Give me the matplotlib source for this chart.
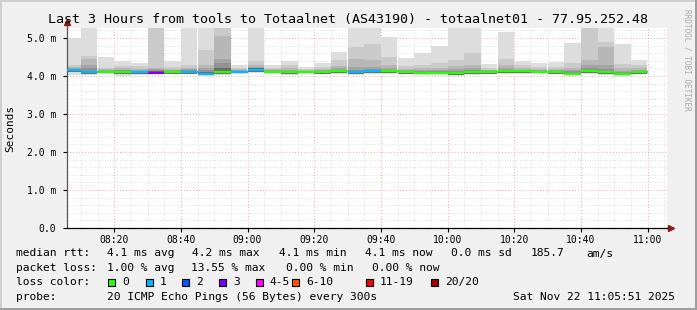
import matplotlib
matplotlib.use("Agg")
import matplotlib.pyplot as plt
import matplotlib.dates as mdates
from matplotlib.patches import Rectangle
from matplotlib.ticker import MultipleLocator, FixedLocator
import pandas as pd
from datetime import datetime

# SmokePing data: 5-minute steps, sorted ping times (ms) per step
bar_start = pd.date_range("2025-11-22 08:05", periods=35, freq="5min")
ping_max = [4.99, 5.60, 4.51, 4.40, 4.35, 5.60, 4.40, 5.60, 5.60, 5.60,
            4.29, 5.60, 4.29, 4.39, 4.23, 4.35, 4.64, 5.60, 5.60, 5.02,
            4.47, 4.60, 4.80, 5.60, 5.60, 4.31, 5.15, 4.40, 4.35, 4.38,
            4.88, 5.60, 5.60, 4.84, 4.42]
ping_19 = [4.28, 4.52, 4.22, 4.27, 4.26, 5.50, 4.24, 4.30, 4.68, 5.50,
           4.22, 4.40, 4.22, 4.30, 4.18, 4.24, 4.42, 4.75, 4.85, 4.51,
           4.27, 4.29, 4.33, 4.42, 4.60, 4.22, 4.46, 4.30, 4.24, 4.24,
           4.35, 5.50, 4.90, 4.32, 4.29]
ping_18 = [4.23, 4.44, 4.18, 4.20, 4.19, 4.22, 4.19, 4.22, 4.30, 5.04,
           4.18, 4.28, 4.18, 4.20, 4.15, 4.18, 4.26, 4.46, 4.42, 4.30,
           4.19, 4.20, 4.22, 4.26, 4.30, 4.17, 4.28, 4.22, 4.18, 4.18,
           4.22, 4.42, 4.75, 4.20, 4.21]
ping_17 = [4.20, 4.28, 4.16, 4.17, 4.16, 4.18, 4.16, 4.18, 4.22, 4.46,
           4.16, 4.23, 4.15, 4.16, 4.14, 4.15, 4.20, 4.24, 4.24, 4.20,
           4.16, 4.15, 4.16, 4.18, 4.22, 4.15, 4.20, 4.17, 4.15, 4.15,
           4.16, 4.28, 4.30, 4.14, 4.16]
ping_16 = [4.19, 4.20, 4.14, 4.15, 4.14, 4.15, 4.14, 4.15, 4.17, 4.33,
           4.14, 4.21, 4.13, 4.14, 4.13, 4.13, 4.17, 4.17, 4.18, 4.17,
           4.14, 4.12, 4.13, 4.13, 4.16, 4.13, 4.17, 4.15, 4.13, 4.13,
           4.12, 4.20, 4.18, 4.10, 4.14]
ping_15 = [4.18, 4.14, 4.13, 4.13, 4.13, 4.12, 4.13, 4.13, 4.10, 4.20,
           4.13, 4.20, 4.12, 4.13, 4.12, 4.12, 4.16, 4.13, 4.16, 4.15,
           4.12, 4.10, 4.10, 4.09, 4.13, 4.12, 4.15, 4.14, 4.12, 4.12,
           4.09, 4.15, 4.13, 4.08, 4.12]
median_rtt = [4.16, 4.10, 4.10, 4.10, 4.10, 4.08, 4.10, 4.10, 4.06, 4.10,
              4.10, 4.17, 4.10, 4.10, 4.10, 4.10, 4.14, 4.10, 4.14, 4.13,
              4.10, 4.07, 4.08, 4.07, 4.10, 4.10, 4.13, 4.12, 4.10, 4.10,
              4.06, 4.12, 4.10, 4.06, 4.10]
ping_2 = [4.10, 4.06, 4.07, 4.04, 4.06, 4.06, 4.06, 4.06, 4.03, 4.06,
          4.07, 4.10, 4.07, 4.05, 4.07, 4.06, 4.09, 4.06, 4.08, 4.08,
          4.06, 4.04, 4.04, 4.03, 4.06, 4.06, 4.08, 4.08, 4.07, 4.06,
          4.04, 4.07, 4.06, 4.02, 4.06]
ping_min = [4.03, 4.03, 4.05, 4.00, 4.03, 4.05, 4.04, 4.04, 4.00, 4.03,
            4.05, 4.07, 4.05, 4.02, 4.05, 4.04, 4.06, 4.03, 4.05, 4.05,
            4.04, 4.02, 4.02, 4.00, 4.03, 4.04, 4.05, 4.05, 4.05, 4.04,
            4.02, 4.04, 4.03, 3.98, 4.04]
loss_pings = [1, 1, 0, 0, 1, 3, 0, 1, 1, 0,
              1, 1, 0, 0, 0, 0, 0, 1, 1, 0,
              0, 0, 0, 0, 0, 0, 0, 0, 0, 0,
              0, 0, 0, 0, 0]

loss_labels = ["0", "1", "2", "3", "4-5", "6-10", "11-19", "20/20"]
loss_colors = ["#26ff00", "#00b8ff", "#0059ff", "#7e00ff",
               "#ff00ff", "#ff5500", "#ff0000", "#a10000"]

W, H = 697, 310
mono = "DejaVu Sans Mono"

fig = plt.figure(figsize=(W / 100, H / 100), dpi=100)
fig.patch.set_facecolor("#f0f0f0")
ax = fig.add_axes([67 / W, (H - 228) / H, 600 / W, 200 / H])
ax.set_facecolor("white")

x = mdates.date2num(bar_start.to_pydatetime())
step = 5 / 1440

# smoke layers, outer to inner
uppers = [ping_max, ping_19, ping_18, ping_17, ping_16, ping_15]
greys = ["#dddddd", "#cacaca", "#b7b7b7", "#a4a4a4", "#919191", "#6b6b6b"]
for i, (up, col) in enumerate(zip(uppers, greys)):
    low = ping_min if i == 0 else ping_2
    ax.bar(x, [u - l for u, l in zip(up, low)], bottom=low, width=step,
           align="edge", color=col, linewidth=0, zorder=2)

ax.hlines(median_rtt, x, x + step, colors=[loss_colors[l] for l in loss_pings],
          linewidth=1.6, zorder=3)

ax.set_xlim(mdates.date2num(datetime(2025, 11, 22, 8, 5, 51)),
            mdates.date2num(datetime(2025, 11, 22, 11, 5, 51)))
ax.set_ylim(0, 5.263)

ax.xaxis.set_major_locator(mdates.MinuteLocator(byminute=[0, 20, 40]))
ax.xaxis.set_minor_locator(mdates.MinuteLocator(byminute=range(0, 60, 5)))
ax.xaxis.set_major_formatter(mdates.DateFormatter("%H:%M"))
ax.yaxis.set_major_locator(FixedLocator([0, 1, 2, 3, 4, 5]))
ax.set_yticklabels(["0.0", "1.0 m", "2.0 m", "3.0 m", "4.0 m", "5.0 m"])
ax.yaxis.set_minor_locator(MultipleLocator(0.2))

ax.grid(which="minor", color="#d4d4d4", linestyle=(0, (1, 2)), linewidth=0.6, zorder=1)
ax.grid(which="major", color="#eeaaaa", linestyle=(0, (1, 2)), linewidth=0.7, zorder=1)
ax.set_axisbelow(True)

for lab in ax.get_xticklabels() + ax.get_yticklabels():
    lab.set_family(mono)
    lab.set_fontsize(7)
ax.tick_params(which="major", length=3, width=0.8, pad=2, colors="black")
ax.tick_params(which="minor", length=0)
ax.tick_params(axis="y", pad=5)

for s in ["top", "right"]:
    ax.spines[s].set_visible(False)
ax.spines["left"].set_color("#555555")
ax.spines["bottom"].set_color("black")
ax.spines["left"].set_linewidth(0.9)
ax.spines["bottom"].set_linewidth(0.9)

# axis arrows
ax.plot([0, 0], [1, 1.03], transform=ax.transAxes, color="#555555", lw=0.9, clip_on=False)
ax.plot([0], [1.03], transform=ax.transAxes, marker="^", color="#8b1a1a",
        markersize=4.5, clip_on=False)
ax.plot([1, 1.007], [0, 0], transform=ax.transAxes, color="black", lw=0.9, clip_on=False)
ax.plot([1.007], [0], transform=ax.transAxes, marker=">", color="#8b1a1a",
        markersize=4.5, clip_on=False)


def txt(px, py, s, **kw):
    kw.setdefault("family", mono)
    kw.setdefault("fontsize", 8.1)
    kw.setdefault("va", "center")
    kw.setdefault("ha", "left")
    fig.text(px / W, 1 - py / H, s, **kw)


txt(347.5, 19, "Last 3 Hours from tools to Totaalnet (AS43190) - totaalnet01 - 77.95.252.48",
    fontsize=9.6, ha="center")
txt(10, 128, "Seconds", rotation=90, ha="center", fontsize=8)
txt(687, 60, "RRDTOOL / TOBI OETIKER", rotation=270, ha="center",
    fontsize=5.6, color="#aaaaaa")

y1, y2, y3, y4 = 253.5, 268, 282, 296.5
txt(16, y1, "median rtt:")
txt(107.3, y1, "4.1 ms avg")
txt(191.7, y1, "4.2 ms max")
txt(279.3, y1, "4.1 ms min")
txt(365, y1, "4.1 ms now")
txt(451, y1, "0.0 ms sd")
txt(530.7, y1, "185.7")
txt(586.7, y1, "am/s")

txt(16, y2, "packet loss:")
txt(107.3, y2, "1.00 % avg")
txt(191.3, y2, "13.55 % max")
txt(286, y2, "0.00 % min")
txt(372, y2, "0.00 % now")

txt(16, y3, "loss color:")
box_x = [108, 146, 182, 219, 256, 292, 366, 431]
for bx, lab, col in zip(box_x, loss_labels, loss_colors):
    fig.patches.append(Rectangle((bx / W, 1 - 285.5 / H), 7 / W, 7 / H,
                                 transform=fig.transFigure, facecolor=col,
                                 edgecolor="black", linewidth=0.8))
    txt(bx + 14, y3, lab)

txt(16, y4, "probe:")
txt(107.3, y4, "20 ICMP Echo Pings (56 Bytes) every 300s")
txt(513.3, y4, "Sat Nov 22 11:05:51 2025")

# 3D frame
fig.patches.append(Rectangle((0, 1 - 2 / H), 1, 2 / H, transform=fig.transFigure,
                             facecolor="#cfcfcf", edgecolor="none"))
fig.patches.append(Rectangle((0, 0), 2 / W, 1, transform=fig.transFigure,
                             facecolor="#cfcfcf", edgecolor="none"))
fig.patches.append(Rectangle((0, 0), 1, 2 / H, transform=fig.transFigure,
                             facecolor="#9e9e9e", edgecolor="none"))
fig.patches.append(Rectangle((1 - 2 / W, 0), 2 / W, 1, transform=fig.transFigure,
                             facecolor="#9e9e9e", edgecolor="none"))

fig.savefig("out.png", dpi=100, facecolor=fig.get_facecolor())
